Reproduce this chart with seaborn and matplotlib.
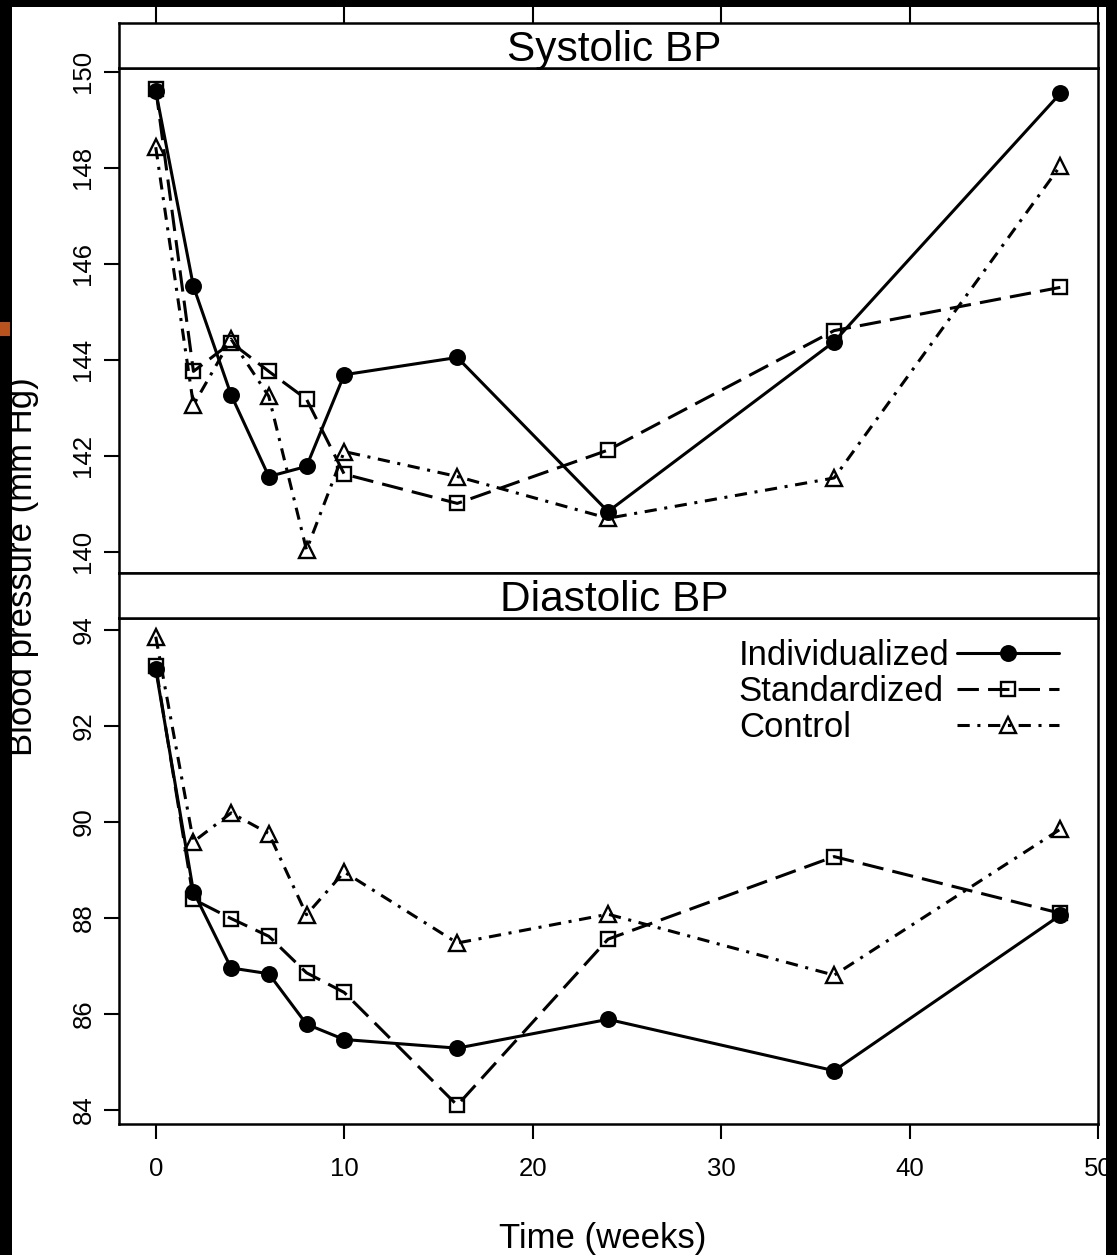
import pandas as pd
import seaborn as sns
import matplotlib.pyplot as plt
from matplotlib.patches import Rectangle

# Werte
weeks = [0, 2, 4, 6, 8, 10, 16, 24, 36, 48]
groups = ["Individualized", "Standardized", "Control"]

sbp_individualized = [149.60, 145.53, 143.27, 141.57, 141.78, 143.69, 144.05, 140.84, 144.38, 149.55]
sbp_standardized = [149.65, 143.76, 144.36, 143.76, 143.18, 141.62, 141.01, 142.12, 144.61, 145.51]
sbp_control = [148.43, 143.06, 144.43, 143.24, 140.04, 142.09, 141.57, 140.70, 141.54, 148.04]

dbp_individualized = [93.18, 88.55, 86.96, 86.84, 85.79, 85.47, 85.29, 85.89, 84.82, 88.06]
dbp_standardized = [93.25, 88.39, 87.99, 87.62, 86.86, 86.45, 84.10, 87.56, 89.28, 88.10]
dbp_control = [93.86, 89.59, 90.19, 89.76, 88.07, 88.96, 87.48, 88.08, 86.81, 89.85]

x_ticks = [0, 10, 20, 30, 40, 50]
sbp_ticks = [140, 142, 144, 146, 148, 150]
dbp_ticks = [84, 86, 88, 90, 92, 94]

sns.set_style("ticks")
plt.rcParams["font.family"] = ["Liberation Sans", "DejaVu Sans"]
plt.rcParams["text.color"] = "black"
plt.rcParams["axes.labelcolor"] = "black"
plt.rcParams["xtick.color"] = "black"
plt.rcParams["ytick.color"] = "black"

# Linien- und Markerstil je Gruppe
styles = {
    "Individualized": dict(marker="o", markerfacecolor="black", markersize=10.5, linestyle="-"),
    "Standardized": dict(marker="s", markerfacecolor="none", markersize=10, linestyle=(0, (7, 3))),
    "Control": dict(marker="^", markerfacecolor="none", markersize=11.5, linestyle=(0, (4, 2.5, 1, 2.5))),
}

W, H = 1117, 1255
fig = plt.figure(figsize=(W / 100, H / 100), dpi=100)


def box(left, top, right, bottom):
    return [left / W, 1 - bottom / H, (right - left) / W, (bottom - top) / H]


ax_top = fig.add_axes(box(119, 68, 1098, 573))
strip_top = fig.add_axes(box(119, 23, 1098, 68))
ax_bot = fig.add_axes(box(119, 618, 1098, 1124))
strip_bot = fig.add_axes(box(119, 573, 1098, 618))

panels = [
    (ax_top, [sbp_individualized, sbp_standardized, sbp_control], (139.56, 150.08), sbp_ticks),
    (ax_bot, [dbp_individualized, dbp_standardized, dbp_control], (83.71, 94.25), dbp_ticks),
]

for ax, series, ylim, yticks in panels:
    for name, vals in zip(groups, series):
        df = pd.DataFrame({"week": weeks, "bp": vals})
        sns.lineplot(data=df, x="week", y="bp", ax=ax, color="black", linewidth=2.2,
                     markeredgecolor="black", markeredgewidth=1.7, label=name,
                     legend=False, **styles[name])
    ax.set_xlim(-1.95, 50)
    ax.set_ylim(*ylim)
    ax.set_yticks(yticks)
    ax.set_xlabel("")
    ax.set_ylabel("")
    ax.tick_params(axis="both", direction="out", length=11, width=1.5, labelsize=18.5, colors="black")
    ax.tick_params(axis="y", labelrotation=90, pad=6)
    for lbl in ax.get_yticklabels():
        lbl.set_va("center")
    for sp in ax.spines.values():
        sp.set_visible(True)
        sp.set_linewidth(1.8)
        sp.set_color("black")
    if ax.get_legend() is not None:
        ax.get_legend().remove()

ax_top.tick_params(axis="x", bottom=False, labelbottom=False)
ax_bot.set_xticks(x_ticks)
ax_bot.tick_params(axis="x", pad=13)

# Streifen mit Paneltiteln
for strip, title in [(strip_top, "Systolic BP"), (strip_bot, "Diastolic BP")]:
    strip.set_xlim(-1.95, 50)
    strip.set_yticks([])
    strip.set_xticks([])
    for sp in strip.spines.values():
        sp.set_visible(True)
        sp.set_linewidth(1.8)
        sp.set_color("black")
    strip.text(0.506, 0.16, title, transform=strip.transAxes, ha="center", va="baseline", fontsize=30.5)

strip_top.set_xticks(x_ticks)
strip_top.tick_params(axis="x", top=True, bottom=False, labeltop=False, labelbottom=False,
                      direction="out", length=11.5, width=1.5)

# Legende: Text links, Linie rechts, Zeilen gleich breit
handles, labels = ax_bot.get_legend_handles_labels()
leg = ax_bot.legend(handles, labels, loc="upper right", bbox_to_anchor=(0.960, 0.958),
                    frameon=False, markerfirst=False, fontsize=25, handlelength=2.93,
                    handletextpad=0.3, labelspacing=0.08, borderpad=0, borderaxespad=0)
for column in leg._legend_handle_box.get_children():
    for item in column.get_children():
        item.mode = "expand"
        item.width = 320

fig.text(23 / W, 1 - 567 / H, "Blood pressure (mm Hg)", rotation=90, ha="center", va="center", fontsize=25)
fig.text(603 / W, 1 - 1248 / H, "Time (weeks)", ha="center", va="baseline", fontsize=25)

# schwarzer Rand des Originalscans
for rect in [(0, 0, 12, H), (0, 0, W, 7), (1106, 0, W - 1106, H)]:
    x0, y0, w, h = rect
    fig.add_artist(Rectangle((x0 / W, 1 - (y0 + h) / H), w / W, h / H, transform=fig.transFigure,
                             facecolor="black", edgecolor="none", zorder=10))
fig.add_artist(Rectangle((0, 1 - 336 / H), 10 / W, 14 / H, transform=fig.transFigure,
                         facecolor="#b8521e", edgecolor="none", zorder=11))

fig.savefig("out.png", dpi=100)
plt.close(fig)
